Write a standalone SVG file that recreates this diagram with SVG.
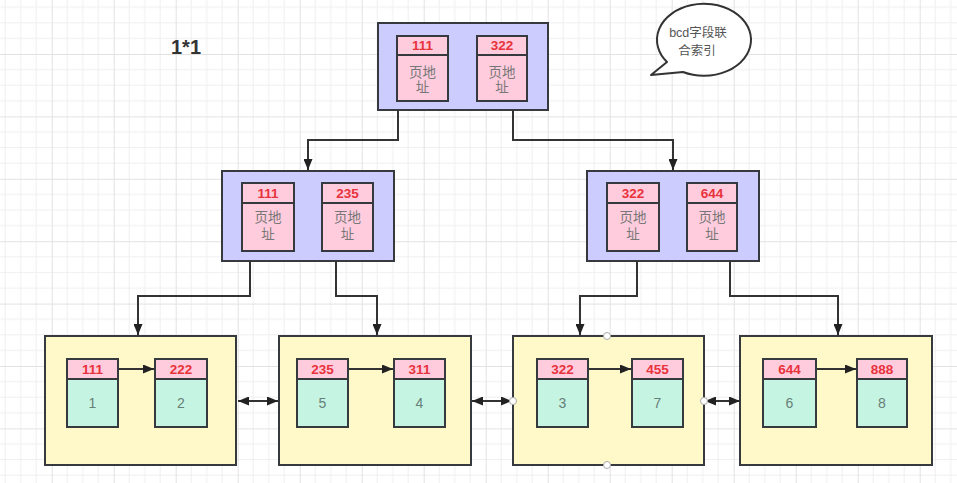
<svg xmlns="http://www.w3.org/2000/svg" width="957" height="483" viewBox="0 0 957 483">
<style>
.outerB{fill:#ccccff;stroke:#36393d;stroke-width:2}
.outerY{fill:#fff9c9;stroke:#36393d;stroke-width:2}
.pink{fill:#ffccdd;stroke:#36393d;stroke-width:2}
.teal{fill:#c6f4e3;stroke:#36393d;stroke-width:2}
.div{stroke:#36393d;stroke-width:2}
.hdr{font-family:"Liberation Sans","Noto Sans CJK SC",sans-serif;font-size:13.5px;font-weight:bold;fill:#e8323c;text-anchor:middle}
.addr{font-family:"Liberation Sans","Noto Sans CJK SC",sans-serif;font-size:13.5px;fill:#777;text-anchor:middle}
.val{font-family:"Liberation Sans","Noto Sans CJK SC",sans-serif;font-size:14px;fill:#667f77;text-anchor:middle}
.conn{fill:none;stroke:#333;stroke-width:2}
.handle{fill:#fff;stroke:#aaa;stroke-width:1}
</style>
<defs>
<pattern id="grid" width="62" height="62.4" patternUnits="userSpaceOnUse" patternTransform="translate(-10.3,-8.4)">
<path d="M15.5,0V62.4M31,0V62.4M46.5,0V62.4M0,15.6H62M0,31.2H62M0,46.8H62" stroke="#efefef" stroke-width="1" fill="none"/>
<path d="M0.5,0V62.4M0,0.5H62" stroke="#e2e2e2" stroke-width="1" fill="none"/>
</pattern>
<marker id="ah" markerUnits="userSpaceOnUse" markerWidth="11" markerHeight="9" refX="11" refY="4.5" orient="auto-start-reverse">
<path d="M0,0 L11,4.5 L0,9 Z" fill="#222"/>
</marker>
</defs>
<rect width="957" height="483" fill="#ffffff"/>
<rect width="957" height="483" fill="url(#grid)"/>

<text x="186" y="54" font-family="'Liberation Sans',sans-serif" font-size="20" font-weight="bold" fill="#333" text-anchor="middle">1*1</text>

<g id="bubble">
<path d="M667,62 A47,36 0 1 1 683,72 L651,75 Z" fill="#ffffff" stroke="#333" stroke-width="2" stroke-linejoin="round"/>
<text x="698" y="37" font-family="'Liberation Sans','Noto Sans CJK SC',sans-serif" font-size="12.5" fill="#555" text-anchor="middle">bcd字段联</text>
<text x="697" y="55" font-family="'Liberation Sans','Noto Sans CJK SC',sans-serif" font-size="12.5" fill="#555" text-anchor="middle">合索引</text>
</g>

<g id="root">
<rect class="outerB" x="378" y="23" width="170" height="87"/>
<rect class="pink" x="397" y="36" width="51" height="65"/>
<line class="div" x1="397" y1="55" x2="448" y2="55"/>
<text class="hdr" x="422.5" y="50">111</text>
<text class="addr" x="422.5" y="77">页地</text>
<text class="addr" x="422.5" y="92">址</text>
<rect class="pink" x="477" y="36" width="50" height="65"/>
<line class="div" x1="477" y1="55" x2="527" y2="55"/>
<text class="hdr" x="502" y="50">322</text>
<text class="addr" x="502" y="77">页地</text>
<text class="addr" x="502" y="92">址</text>
</g>

<g id="midL">
<rect class="outerB" x="222" y="171" width="172" height="90"/>
<rect class="pink" x="242" y="183" width="52" height="68"/>
<line class="div" x1="242" y1="203" x2="294" y2="203"/>
<text class="hdr" x="268" y="198">111</text>
<text class="addr" x="268" y="222">页地</text>
<text class="addr" x="268" y="239">址</text>
<rect class="pink" x="322" y="183" width="51" height="68"/>
<line class="div" x1="322" y1="203" x2="373" y2="203"/>
<text class="hdr" x="347.5" y="198">235</text>
<text class="addr" x="347.5" y="222">页地</text>
<text class="addr" x="347.5" y="239">址</text>
</g>

<g id="midR">
<rect class="outerB" x="587" y="171" width="172" height="90"/>
<rect class="pink" x="607" y="183" width="52" height="68"/>
<line class="div" x1="607" y1="203" x2="659" y2="203"/>
<text class="hdr" x="633" y="198">322</text>
<text class="addr" x="633" y="222">页地</text>
<text class="addr" x="633" y="239">址</text>
<rect class="pink" x="687" y="183" width="50" height="68"/>
<line class="div" x1="687" y1="203" x2="737" y2="203"/>
<text class="hdr" x="712" y="198">644</text>
<text class="addr" x="712" y="222">页地</text>
<text class="addr" x="712" y="239">址</text>
</g>

<g id="leaf1">
<rect class="outerY" x="45" y="336" width="191" height="129"/>
<rect class="teal" x="67" y="359" width="51" height="68"/>
<rect class="pink" x="67" y="359" width="51" height="20"/>
<text class="hdr" x="92.5" y="374">111</text>
<text class="val" x="92.5" y="408">1</text>
<rect class="teal" x="155" y="359" width="52" height="68"/>
<rect class="pink" x="155" y="359" width="52" height="20"/>
<text class="hdr" x="181" y="374">222</text>
<text class="val" x="181" y="408">2</text>
</g>

<g id="leaf2">
<rect class="outerY" x="279" y="336" width="192" height="129"/>
<rect class="teal" x="297" y="359" width="51" height="68"/>
<rect class="pink" x="297" y="359" width="51" height="20"/>
<text class="hdr" x="322.5" y="374">235</text>
<text class="val" x="322.5" y="408">5</text>
<rect class="teal" x="394" y="359" width="51" height="68"/>
<rect class="pink" x="394" y="359" width="51" height="20"/>
<text class="hdr" x="419.5" y="374">311</text>
<text class="val" x="419.5" y="408">4</text>
</g>

<g id="leaf3">
<rect class="outerY" x="513" y="336" width="191" height="129"/>
<rect class="teal" x="537" y="359" width="51" height="68"/>
<rect class="pink" x="537" y="359" width="51" height="20"/>
<text class="hdr" x="562.5" y="374">322</text>
<text class="val" x="562.5" y="408">3</text>
<rect class="teal" x="632" y="359" width="51" height="68"/>
<rect class="pink" x="632" y="359" width="51" height="20"/>
<text class="hdr" x="657.5" y="374">455</text>
<text class="val" x="657.5" y="408">7</text>
</g>

<g id="leaf4">
<rect class="outerY" x="740" y="336" width="192" height="129"/>
<rect class="teal" x="763" y="359" width="53" height="68"/>
<rect class="pink" x="763" y="359" width="53" height="20"/>
<text class="hdr" x="789.5" y="374">644</text>
<text class="val" x="789.5" y="408">6</text>
<rect class="teal" x="857" y="359" width="50" height="68"/>
<rect class="pink" x="857" y="359" width="50" height="20"/>
<text class="hdr" x="882" y="374">888</text>
<text class="val" x="882" y="408">8</text>
</g>

<g id="connectors">
<path class="conn" d="M398,110 V140 H308 V170" marker-end="url(#ah)"/>
<path class="conn" d="M513,110 V140 H673 V170" marker-end="url(#ah)"/>
<path class="conn" d="M250,261 V296 H138 V335" marker-end="url(#ah)"/>
<path class="conn" d="M336,261 V296 H377 V335" marker-end="url(#ah)"/>
<path class="conn" d="M637,261 V296 H580 V335" marker-end="url(#ah)"/>
<path class="conn" d="M730,261 V296 H838 V335" marker-end="url(#ah)"/>
<path class="conn" d="M119,369 H154" marker-end="url(#ah)"/>
<path class="conn" d="M349,369 H393" marker-end="url(#ah)"/>
<path class="conn" d="M589,369 H631" marker-end="url(#ah)"/>
<path class="conn" d="M817,369 H856" marker-end="url(#ah)"/>
<path class="conn" d="M238,401 H278" marker-start="url(#ah)" marker-end="url(#ah)"/>
<path class="conn" d="M472,401 H512" marker-start="url(#ah)" marker-end="url(#ah)"/>
<path class="conn" d="M705,401 H740" marker-start="url(#ah)" marker-end="url(#ah)"/>
</g>

<g id="handles">
<circle class="handle" cx="607" cy="336" r="3.5"/>
<circle class="handle" cx="607" cy="465" r="3.5"/>
<circle class="handle" cx="513" cy="401" r="3.5"/>
<circle class="handle" cx="704" cy="401" r="3.5"/>
</g>
</svg>
